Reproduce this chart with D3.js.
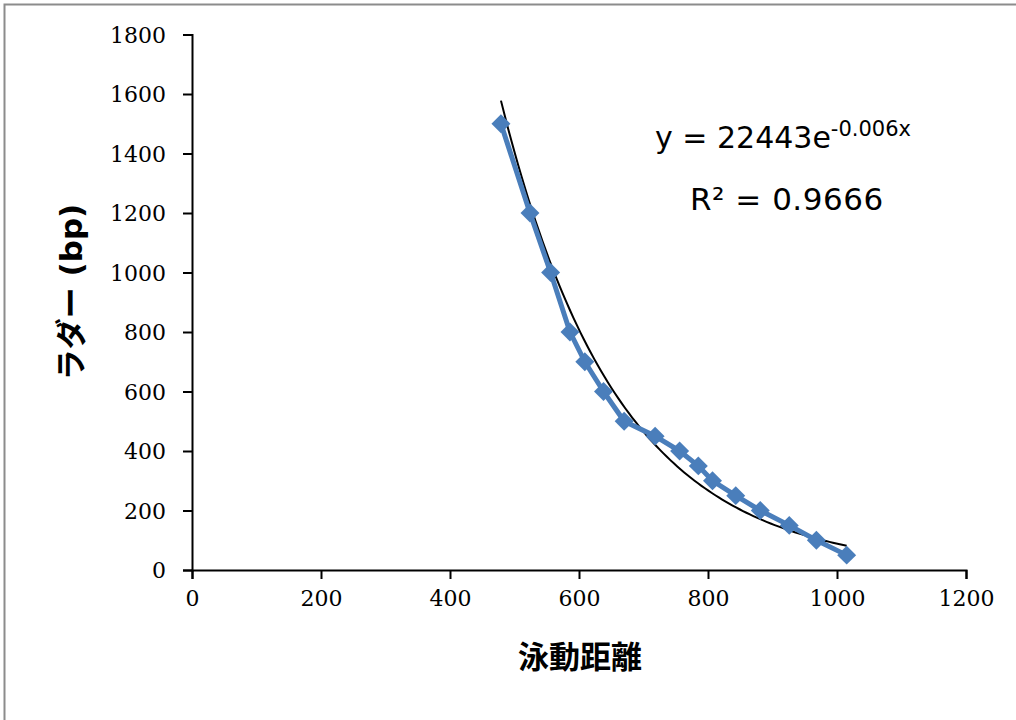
<!DOCTYPE html>
<html>
<head>
<meta charset="utf-8">
<script src="https://cdn.jsdelivr.net/npm/d3@7"></script>
<style>
  body { margin: 0; background: #fff; }
</style>
</head>
<body>
<svg width="1016" height="720"></svg>
<script>
// values
const distance = [479, 524, 556, 586, 609, 638, 670, 718, 756, 785, 807, 843, 881, 926, 968, 1015]
const ladder = [1500, 1200, 1000, 800, 700, 600, 500, 450, 400, 350, 300, 250, 200, 150, 100, 50]
const xTicks = [0, 200, 400, 600, 800, 1000, 1200]
const yTicks = [0, 200, 400, 600, 800, 1000, 1200, 1400, 1600, 1800]

const svg = d3.select('svg')

// outer chart border (right and bottom edges fall outside the picture)
svg.append('rect')
  .attr('x', 4.5).attr('y', 4.5)
  .attr('width', 1030).attr('height', 730)
  .attr('fill', '#fff')
  .attr('stroke', '#8c8c8c')
  .attr('stroke-width', 2)

const x = d3.scaleLinear().domain([0, 1200]).range([192, 966])
const y = d3.scaleLinear().domain([0, 1800]).range([570, 34.5])

const xAxis = svg.append('g')
  .attr('transform', 'translate(0,570)')
  .call(d3.axisBottom(x).tickValues(xTicks).tickSize(9).tickPadding(11).tickFormat(d3.format('d')))
const yAxis = svg.append('g')
  .attr('transform', 'translate(192,0)')
  .call(d3.axisLeft(y).tickValues(yTicks).tickSize(9).tickPadding(17).tickFormat(d3.format('d')))

;[xAxis, yAxis].forEach(g => {
  g.select('.domain').attr('stroke', '#000').attr('stroke-width', 2)
  g.selectAll('.tick line').attr('stroke', '#000').attr('stroke-width', 2)
  g.selectAll('.tick text')
    .attr('fill', '#000')
    .attr('font-family', '"DejaVu Serif", serif')
    .attr('font-size', '22px')
})
yAxis.selectAll('.tick text').attr('dy', '0.35em')

// exponential trend line (least squares on ln y)
const n = distance.length
const lx = distance, ly = ladder.map(v => Math.log(v))
const mx = d3.mean(lx), my = d3.mean(ly)
const b = d3.sum(lx.map((v, i) => (v - mx) * (ly[i] - my))) / d3.sum(lx.map(v => (v - mx) * (v - mx)))
const a = Math.exp(my - b * mx)
const trendX = d3.range(distance[0], distance[n - 1] + 0.1, (distance[n - 1] - distance[0]) / 100)

svg.append('path')
  .datum(trendX)
  .attr('fill', 'none')
  .attr('stroke', '#000')
  .attr('stroke-width', 2)
  .attr('d', d3.line().x(d => x(d)).y(d => y(a * Math.exp(b * d))))

// data series
const pts = distance.map((d, i) => [d, ladder[i]])
svg.append('path')
  .datum(pts)
  .attr('fill', 'none')
  .attr('stroke', '#4a7ebb')
  .attr('stroke-width', 5)
  .attr('stroke-linejoin', 'round')
  .attr('d', d3.line().x(d => x(d[0])).y(d => y(d[1])))

svg.selectAll('path.marker')
  .data(pts)
  .enter().append('path')
  .attr('class', 'marker')
  .attr('d', d3.symbol().type(d3.symbolSquare).size(180))
  .attr('transform', d => `translate(${x(d[0])},${y(d[1])}) rotate(45)`)
  .attr('fill', '#4a7ebb')

// equation labels
const eq = svg.append('text')
  .attr('x', 655).attr('y', 148)
  .attr('font-family', '"DejaVu Sans", Verdana, sans-serif')
  .attr('font-size', '30px')
  .attr('fill', '#000')
eq.append('tspan').text('y = 22443e')
eq.append('tspan').attr('font-size', '21px').attr('dy', -12).text('-0.006x')

svg.append('text')
  .attr('x', 690).attr('y', 210)
  .attr('font-family', '"DejaVu Sans", Verdana, sans-serif')
  .attr('font-size', '31px')
  .attr('letter-spacing', '0.5px')
  .attr('fill', '#000')
  .text('R² = 0.9666')

// axis titles
svg.append('text')
  .attr('x', 580).attr('y', 668)
  .attr('text-anchor', 'middle')
  .attr('font-family', '"Noto Sans CJK JP", sans-serif')
  .attr('font-weight', 'bold')
  .attr('font-size', '31px')
  .attr('fill', '#000')
  .text('泳動距離')

svg.append('text')
  .attr('transform', 'translate(82,292) rotate(-90)')
  .attr('text-anchor', 'middle')
  .attr('font-family', '"DejaVu Sans", "Noto Sans CJK JP", sans-serif')
  .attr('font-weight', 'bold')
  .attr('font-size', '31px')
  .attr('fill', '#000')
  .text('ラダー (bp)')
</script>
</body>
</html>
